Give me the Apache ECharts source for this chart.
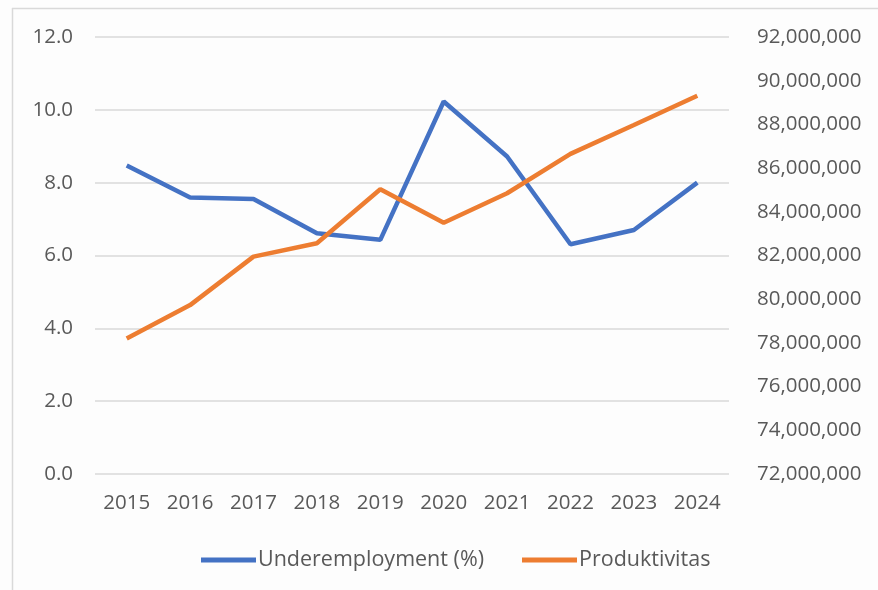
<!DOCTYPE html>
<html>
<head>
<meta charset="utf-8">
<script src="https://cdn.jsdelivr.net/npm/echarts@6/dist/echarts.min.js"></script>
<style>html,body{margin:0;padding:0;background:#fff;}#c{width:878px;height:590px;}</style>
</head>
<body>
<div id="c"></div>
<script>
const years = ['2015','2016','2017','2018','2019','2020','2021','2022','2023','2024'];
const underemployment = [8.47, 7.59, 7.55, 6.61, 6.43, 10.23, 8.72, 6.31, 6.70, 8.00];
const produktivitas = [78200000, 79730000, 81950000, 82560000, 85030000, 83500000, 84850000, 86650000, 87970000, 89310000];
const seriesNames = ['Underemployment (%)', 'Produktivitas'];

const chart = echarts.init(document.getElementById('c'), null, {renderer: 'canvas'});
const font = 'Open Sans';
const grey = '#595959';
const fs = 20.5;
chart.setOption({
  animation: false,
  backgroundColor: '#fdfdfd',
  graphic: [
    {type: 'line', shape: {x1: 12, y1: 8.5, x2: 878, y2: 8.5}, style: {stroke: '#d9d9d9', lineWidth: 1.5}},
    {type: 'line', shape: {x1: 12.5, y1: 8, x2: 12.5, y2: 590}, style: {stroke: '#d9d9d9', lineWidth: 1.5}}
  ],
  grid: {left: 95, right: 149, top: 37, bottom: 116, containLabel: false},
  legend: {
    data: seriesNames,
    top: 544,
    left: 196,
    itemWidth: 55,
    itemHeight: 5,
    itemGap: 38,
    icon: 'rect',
    textStyle: {color: grey, fontFamily: font, fontSize: 21.5, padding: [0,0,0,-3]}
  },
  xAxis: {
    type: 'category',
    data: years,
    boundaryGap: true,
    axisLine: {show: false},
    axisTick: {show: false},
    axisLabel: {color: grey, fontFamily: font, fontSize: fs, margin: 19}
  },
  yAxis: [
    {
      type: 'value', min: 0, max: 12, interval: 2,
      axisLine: {show: false}, axisTick: {show: false},
      axisLabel: {color: grey, fontFamily: font, fontSize: fs, margin: 22,
        formatter: v => v.toFixed(1)},
      splitLine: {lineStyle: {color: '#d9d9d9', width: 1.5}}
    },
    {
      type: 'value', min: 72000000, max: 92000000, interval: 2000000,
      axisLine: {show: false}, axisTick: {show: false},
      axisLabel: {color: grey, fontFamily: font, fontSize: fs, margin: 28,
        formatter: v => v.toLocaleString('en-US')},
      splitLine: {show: false}
    }
  ],
  series: [
    {name: seriesNames[0], type: 'line', data: underemployment, yAxisIndex: 0,
     symbol: 'none', lineStyle: {color: '#4472C4', width: 4.5}, itemStyle: {color: '#4472C4'}},
    {name: seriesNames[1], type: 'line', data: produktivitas, yAxisIndex: 1,
     symbol: 'none', lineStyle: {color: '#ED7D31', width: 4.5}, itemStyle: {color: '#ED7D31'}}
  ]
});
</script>
</body>
</html>
